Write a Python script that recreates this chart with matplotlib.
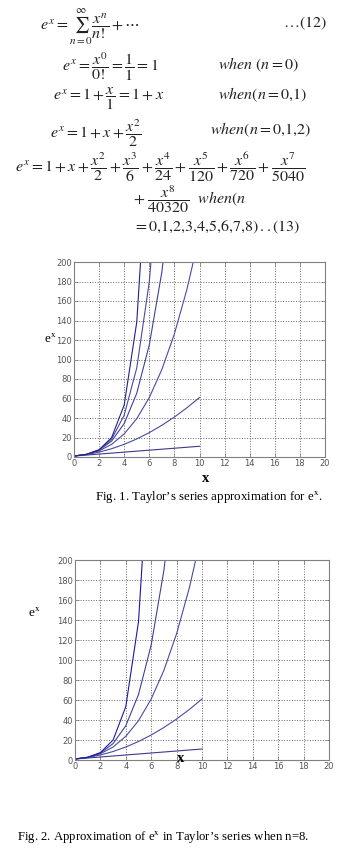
import numpy as np
import matplotlib
matplotlib.use("Agg")
import matplotlib.pyplot as plt

plt.rcParams['mathtext.fontset'] = 'stix'
plt.rcParams['font.family'] = ['Liberation Serif', 'DejaVu Serif']

W, H = 361, 852

# partial sums of e^x at x = 0,1,2,...
x_int = [0, 1, 2, 3, 4, 5, 6, 7, 8, 9, 10]
n1 = [1, 2, 3, 4, 5, 6, 7, 8, 9, 10, 11]
n2 = [1, 2.5, 5, 8.5, 13, 18.5, 25, 32.5, 41, 50.5, 61]
n3 = [1, 2.7, 6.3, 13, 23.7, 39.3, 61, 89.7, 126.3, 172, 227.7]
n4 = [1, 2.7, 7, 16.4, 34.3, 65.4, 115, 189.7, 297]
n5 = [1, 2.7, 7.3, 18.4, 42.9, 91.4, 179.8, 329.8]
n8 = [1, 2.7, 7.4, 20.0, 53.4, 138.3, 341.8]

fig1_curves = [n1, n2, n3, n4, n5, n8]
fig2_curves = [n1, n2, n3, n4, n8]
curve_col = ['#3a3a90', '#4a4aa0', '#4a4aa0', '#40409a', '#4a4aa0', '#22228a']

xticks = [0, 2, 4, 6, 8, 10, 12, 14, 16, 18, 20]
yticks = [0, 20, 40, 60, 80, 100, 120, 140, 160, 180, 200]

fig = plt.figure(figsize=(W / 100, H / 100), dpi=100)


def ftext(x, y, s, **kw):
    fig.text(x / W, 1 - y / H, s, **kw)


def axes_px(l, t, r, b):
    return fig.add_axes([l / W, 1 - b / H, (r - l) / W, (b - t) / H])


def style(ax):
    ax.set_xlim(0, 20)
    ax.set_ylim(0, 200)
    ax.set_xticks(xticks)
    ax.set_yticks(yticks)
    ax.grid(True, linestyle=':', color='#666666', linewidth=0.7)
    ax.tick_params(direction='in', length=3, width=0.5, colors='#777777',
                   labelsize=6, labelcolor='#555555', top=True, right=True, pad=1.5)
    for lab in ax.get_xticklabels() + ax.get_yticklabels():
        lab.set_family('DejaVu Sans')
    for s in ax.spines.values():
        s.set_color('#808080')
        s.set_linewidth(0.8)


# equations
eq = dict(fontsize=11.5, va='center', ha='left', color='#222222')
ftext(40, 27, r'$e^x = \sum_{n=0}^{\infty}\dfrac{x^n}{n!} + \cdots$', **eq)
ftext(283, 23, r'$\ldots(12)$', **eq)
ftext(62, 67, r'$e^x = \dfrac{x^0}{0!} = \dfrac{1}{1} = 1$', **eq)
ftext(218, 65, r'$when\ (n = 0)$', **eq)
ftext(53, 99, r'$e^x = 1 + \dfrac{x}{1} = 1 + x$', **eq)
ftext(218, 95, r'$when(n = 0{,}1)$', **eq)
ftext(50, 133, r'$e^x = 1 + x + \dfrac{x^2}{2}$', **eq)
ftext(210, 130, r'$when(n = 0{,}1{,}2)$', **eq)
ftext(15, 167, r'$e^x = 1 + x + \dfrac{x^2}{2} + \dfrac{x^3}{6} + \dfrac{x^4}{24} + '
      r'\dfrac{x^5}{120} + \dfrac{x^6}{720} + \dfrac{x^7}{5040}$', **eq)
ftext(133, 199, r'$+\ \dfrac{x^8}{40320}\ \ when(n$', **eq)
ftext(133, 227, r'$= 0{,}1{,}2{,}3{,}4{,}5{,}6{,}7{,}8)\,..(13)$', **eq)

# figure 1
ax1 = axes_px(74, 262, 325, 457)
for y, c in zip(fig1_curves, curve_col):
    ax1.plot(x_int[:len(y)], y, color=c, linewidth=0.8)
style(ax1)
ftext(206, 478, 'x', fontsize=10.5, fontweight='bold', ha='center', va='center')
ftext(50, 338, r'e$^{\mathrm{x}}$', fontsize=9.5, ha='center', va='center')
ftext(95, 497, r"Fig. 1. Taylor’s series approximation for e$^{\mathrm{x}}$.",
      fontsize=9.3, ha='left', va='center')

# figure 2
ax2 = axes_px(75, 560, 329, 760)
for y, c in zip(fig2_curves, curve_col[:4] + ['#1a1aa0']):
    ax2.plot(x_int[:len(y)], y, color=c, linewidth=0.8)
style(ax2)
ftext(181, 758, 'x', fontsize=10.5, fontweight='bold', ha='center', va='center')
ftext(34, 613, r'e$^{\mathrm{x}}$', fontsize=9.5, ha='center', va='center')
ftext(17, 837, r"Fig. 2. Approximation of e$^{\mathrm{x}}$ in Taylor’s series when n=8.",
      fontsize=9.2, ha='left', va='center')

fig.savefig('out.png', dpi=100)
